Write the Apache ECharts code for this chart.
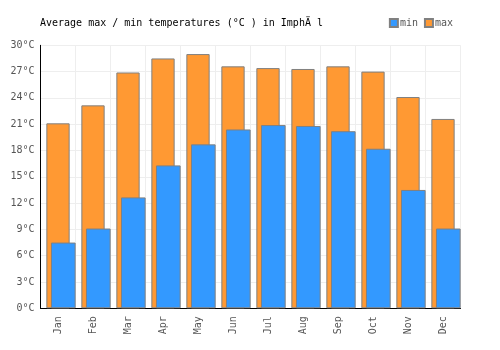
<!DOCTYPE html>
<html><head><meta charset="utf-8">
<script src="https://cdn.jsdelivr.net/npm/echarts@6/dist/echarts.min.js"></script>
<style>html,body{margin:0;padding:0;background:#fff}#c{width:500px;height:350px}</style>
</head><body><div id="c"></div>
<script>
const months = ['Jan','Feb','Mar','Apr','May','Jun','Jul','Aug','Sep','Oct','Nov','Dec'];
const maxTemps = [21.1, 23.15, 26.9, 28.5, 29.0, 27.6, 27.4, 27.3, 27.6, 27.0, 24.1, 21.6];
const minTemps = [7.5, 9.1, 12.65, 16.3, 18.7, 20.4, 20.9, 20.8, 20.2, 18.2, 13.5, 9.1];
const titleText = 'Average max / min temperatures (°C ) in ImphÄ l';

const font = '"DejaVu Sans Mono", monospace';
const chart = echarts.init(document.getElementById('c'), null, {renderer:'canvas'});
chart.setOption({
  animation:false,
  backgroundColor:'#fff',
  title:{text:titleText, left:35, top:13, textStyle:{fontFamily:font, fontSize:10, fontWeight:'normal', color:'#000'}},
  legend:{data:['min','max'], right:42, top:13, itemWidth:8, itemHeight:8, itemGap:6,
    textStyle:{fontFamily:font, fontSize:10, color:'#555', padding:[0,0,0,-3]}, icon:'rect'},
  grid:[
    {left:40.5, right:39.5, top:45.3, bottom:41.7},
    {left:45.8, right:34.2, top:45.3, bottom:41.7}
  ],
  xAxis:[
    {type:'category', data:months, gridIndex:0, boundaryGap:true,
      axisLine:{lineStyle:{color:'#000', width:1}}, axisTick:{show:false},
      axisLabel:{rotate:90, fontFamily:font, fontSize:10, color:'#555', margin:8},
      splitLine:{show:true, lineStyle:{color:'#eeeeee'}}},
    {type:'category', data:months, gridIndex:1, show:false}
  ],
  yAxis:[
    {type:'value', gridIndex:0, min:0, max:30, interval:3,
      axisLine:{show:true, lineStyle:{color:'#000'}}, axisTick:{show:false},
      axisLabel:{formatter:'{value}°C', fontFamily:font, fontSize:10, color:'#555', margin:6},
      splitLine:{show:true, lineStyle:{color:'#eeeeee'}}},
    {type:'value', gridIndex:1, min:0, max:30, interval:3, show:false, splitLine:{show:false}}
  ],
  series:[
    {name:'max', type:'bar', data:maxTemps, xAxisIndex:0, yAxisIndex:0, barWidth:23.3, z:2,
      itemStyle:{color:'#ff9933', borderColor:'#808080', borderWidth:1}},
    {name:'min', type:'bar', data:minTemps, xAxisIndex:1, yAxisIndex:1, barWidth:24.7, z:3,
      itemStyle:{color:'#3399ff', borderColor:'#808080', borderWidth:1}}
  ]
});
</script></body></html>
